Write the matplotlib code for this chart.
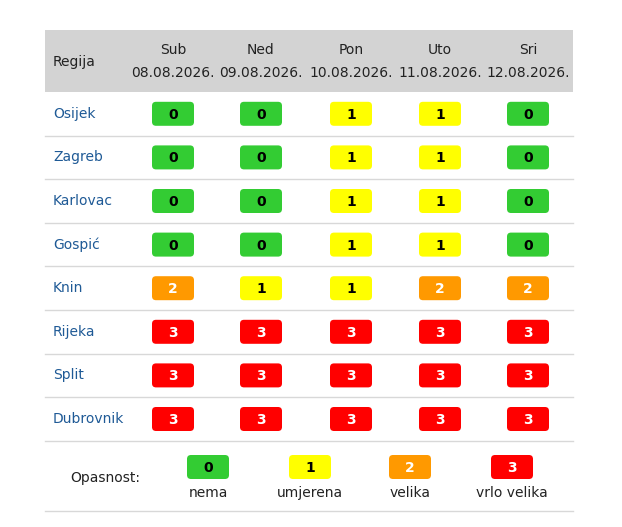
import matplotlib
matplotlib.use("Agg")
import matplotlib.pyplot as plt
from matplotlib.patches import FancyBboxPatch, Rectangle

regions = ["Osijek", "Zagreb", "Karlovac", "Gospić", "Knin", "Rijeka", "Split", "Dubrovnik"]
days = ["Sub", "Ned", "Pon", "Uto", "Sri"]
dates = ["08.08.2026.", "09.08.2026.", "10.08.2026.", "11.08.2026.", "12.08.2026."]
levels = [
    [0, 0, 1, 1, 0],
    [0, 0, 1, 1, 0],
    [0, 0, 1, 1, 0],
    [0, 0, 1, 1, 0],
    [2, 1, 1, 2, 2],
    [3, 3, 3, 3, 3],
    [3, 3, 3, 3, 3],
    [3, 3, 3, 3, 3],
]
legend_levels = [0, 1, 2, 3]
legend_labels = ["nema", "umjerena", "velika", "vrlo velika"]
colors = ["#33cc33", "#ffff00", "#ff9900", "#ff0000"]
text_colors = ["black", "black", "white", "white"]

W, H = 622, 527
fig = plt.figure(figsize=(W/100, H/100), dpi=100)
ax = fig.add_axes([0, 0, 1, 1])
ax.set_xlim(0, W); ax.set_ylim(H, 0); ax.axis("off")

x0, x1 = 45, 573
ax.add_patch(Rectangle((x0, 30), x1-x0, 62, color="#d3d3d3", lw=0))
col_x = [173, 261, 351, 440, 528]
ax.text(53, 62, "Regija", fontsize=10, va="center", ha="left", color="#222")
for cx, d, dt in zip(col_x, days, dates):
    ax.text(cx, 50, d, fontsize=10, ha="center", va="center", color="#222")
    ax.text(cx, 73, dt, fontsize=10, ha="center", va="center", color="#222")

def badge(cx, cy, lvl):
    bw, bh = 42, 24
    ax.add_patch(FancyBboxPatch((cx-bw/2, cy-bh/2), bw, bh,
                                boxstyle="round,pad=0,rounding_size=4",
                                fc=colors[lvl], ec="none"))
    ax.text(cx, cy+1, str(lvl), fontsize=10, fontweight="bold",
            ha="center", va="center", color=text_colors[lvl])

row_h = 43.6
top = 92
for i, (r, lv) in enumerate(zip(regions, levels)):
    cy = top + row_h*(i+0.5)
    ax.text(53, cy, r, fontsize=10, ha="left", va="center", color="#1f5a96")
    for cx, l in zip(col_x, lv):
        badge(cx, cy, l)
    yl = top + row_h*(i+1)
    ax.plot([x0, x1], [yl, yl], color="#d8d8d8", lw=1)

ax.text(105, 478, "Opasnost:", fontsize=10, ha="center", va="center", color="#222")
leg_x = [208, 310, 410, 512]
for cx, l, lab in zip(leg_x, legend_levels, legend_labels):
    badge(cx, 467, l)
    ax.text(cx, 493, lab, fontsize=10, ha="center", va="center", color="#222")
ax.plot([x0, x1], [511, 511], color="#d8d8d8", lw=1)

fig.savefig("out.png", dpi=100, facecolor="white")
